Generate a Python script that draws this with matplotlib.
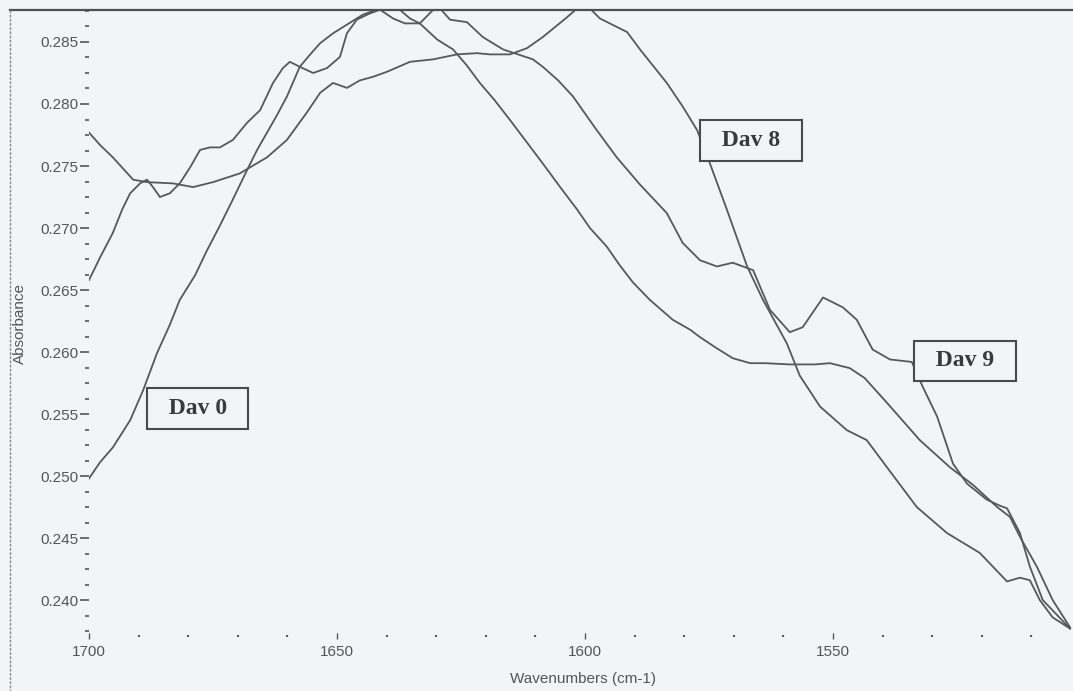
import matplotlib
matplotlib.use('Agg')
import matplotlib.pyplot as plt
from matplotlib.lines import Line2D
from matplotlib.ticker import MultipleLocator, FormatStrFormatter

# spettri FTIR (regione ammide I / II), assorbanza per i tre campioni
wn_dav0 = [1700, 1697.8, 1695.2, 1691.7, 1689.1, 1686.3, 1683.7, 1681.7, 1678.6, 1676.2,
           1673.6, 1671.0, 1668.1, 1666.1, 1664.1, 1662.1, 1660.1, 1657.5, 1655.4, 1653.4,
           1650.8, 1648.8, 1644.8, 1641.3, 1637.9, 1635.3, 1633.3, 1629.8, 1626.6, 1623.8,
           1621.2, 1618.2, 1615.1, 1611.7, 1608.5, 1605.0, 1601.6, 1599.0, 1595.6, 1593.0,
           1590.3, 1586.9, 1582.3, 1578.8, 1576.8, 1573.8, 1570.2, 1566.7, 1563.7, 1558.7,
           1553.6, 1550.6, 1546.6, 1543.6, 1539.1, 1532.5, 1526.4, 1521.8, 1516.9, 1514.3,
           1512.3, 1508.9, 1505.7, 1502.2]
abs_dav0 = [0.2498, 0.2511, 0.2523, 0.2545, 0.2569, 0.2599, 0.2622, 0.2642, 0.2662, 0.2682,
            0.2702, 0.2723, 0.2747, 0.2763, 0.2777, 0.2791, 0.2806, 0.2830, 0.2840, 0.2849,
            0.2857, 0.2862, 0.2872, 0.2877, 0.2878, 0.2869, 0.2865, 0.2852, 0.2844, 0.2831,
            0.2817, 0.2803, 0.2787, 0.2769, 0.2752, 0.2733, 0.2715, 0.2700, 0.2685, 0.2670,
            0.2656, 0.2642, 0.2626, 0.2618, 0.2612, 0.2604, 0.2595, 0.2591, 0.2591, 0.2590,
            0.2590, 0.2591, 0.2587, 0.2579, 0.2559, 0.2529, 0.2507, 0.2493, 0.2475, 0.2467,
            0.2451, 0.2427, 0.2400, 0.2378]

wn_dav8 = [1700, 1697.8, 1695.2, 1691.1, 1688.3, 1683.1, 1679.0, 1675.0, 1669.6, 1664.1,
           1660.1, 1656.1, 1653.4, 1650.8, 1648.0, 1645.4, 1642.7, 1639.9, 1635.3, 1630.6,
           1625.8, 1621.8, 1619.2, 1615.1, 1611.7, 1608.5, 1603.6, 1601.6, 1599.0, 1597.0,
           1591.5, 1588.9, 1583.5, 1580.3, 1577.4, 1574.8, 1571.4, 1567.3, 1564.1, 1559.3,
           1556.7, 1552.6, 1547.2, 1543.2, 1539.1, 1533.1, 1527.0, 1520.4, 1514.9, 1512.3,
           1510.3, 1508.3, 1505.7, 1502.2]
abs_dav8 = [0.2777, 0.2767, 0.2757, 0.2739, 0.2737, 0.2736, 0.2733, 0.2737, 0.2744, 0.2757,
            0.2771, 0.2793, 0.2809, 0.2817, 0.2813, 0.2819, 0.2822, 0.2826, 0.2834, 0.2836,
            0.2840, 0.2841, 0.2840, 0.2840, 0.2845, 0.2854, 0.2870, 0.2877, 0.2877, 0.2869,
            0.2858, 0.2844, 0.2817, 0.2798, 0.2779, 0.2752, 0.2715, 0.2669, 0.2642, 0.2607,
            0.2581, 0.2556, 0.2537, 0.2529, 0.2507, 0.2475, 0.2454, 0.2438, 0.2415, 0.2418,
            0.2416, 0.2400, 0.2386, 0.2377]

wn_dav9 = [1700, 1697.8, 1695.2, 1693.3, 1691.7, 1689.7, 1688.3, 1687.1, 1685.7, 1683.7,
           1681.7, 1679.6, 1677.6, 1675.6, 1673.6, 1671.0, 1668.1, 1665.5, 1662.9, 1660.9,
           1659.5, 1657.5, 1654.8, 1652.0, 1649.4, 1648.0, 1646.0, 1643.4, 1641.3, 1638.7,
           1636.3, 1633.3, 1630.6, 1629.2, 1627.2, 1623.8, 1620.6, 1616.5, 1610.5, 1608.5,
           1605.4, 1602.4, 1598.0, 1593.6, 1588.9, 1583.5, 1580.3, 1576.8, 1573.4, 1570.2,
           1566.1, 1562.7, 1558.7, 1556.1, 1552.0, 1548.0, 1545.2, 1542.0, 1538.5, 1534.1,
           1531.9, 1529.0, 1525.8, 1523.0, 1519.0, 1516.3, 1514.9, 1512.3, 1510.3, 1507.7,
           1502.2]
abs_dav9 = [0.2658, 0.2676, 0.2696, 0.2715, 0.2728, 0.2736, 0.2739, 0.2733, 0.2725, 0.2728,
            0.2736, 0.2749, 0.2763, 0.2765, 0.2765, 0.2771, 0.2785, 0.2795, 0.2817, 0.2829,
            0.2834, 0.2830, 0.2825, 0.2829, 0.2838, 0.2857, 0.2868, 0.2873, 0.2876, 0.2869,
            0.2865, 0.2865, 0.2876, 0.2877, 0.2868, 0.2866, 0.2854, 0.2844, 0.2836, 0.2830,
            0.2819, 0.2806, 0.2781, 0.2757, 0.2735, 0.2712, 0.2688, 0.2674, 0.2669, 0.2672,
            0.2666, 0.2634, 0.2616, 0.2620, 0.2644, 0.2636, 0.2626, 0.2602, 0.2594, 0.2592,
            0.2572, 0.2548, 0.2510, 0.2494, 0.2481, 0.2476, 0.2474, 0.2454, 0.2427, 0.2400,
            0.2377]

# etichette dei campioni: testo e posizione (numero d'onda, assorbanza)
etichette = ['Dav 0', 'Dav 8', 'Dav 9']
pos_etichette = [(1678.1, 0.25545), (1566.5, 0.27706), (1523.4, 0.25928)]

sfondo = '#f3f4f6'
grigio = '#555555'

fig = plt.figure(figsize=(10.73, 6.91), dpi=100, facecolor=sfondo)
ax = fig.add_axes([89 / 1073, 55 / 691, 984 / 1073, 626 / 691])
ax.set_facecolor('none')

for wn, ab in [(wn_dav0, abs_dav0), (wn_dav8, abs_dav8), (wn_dav9, abs_dav9)]:
    ax.plot(wn, ab, color='#585858', linewidth=1.3, zorder=2)

ax.set_xlim(1700, 1501.6)
ax.set_ylim(0.2371, 0.28758)

for s in ax.spines.values():
    s.set_visible(False)

ax.xaxis.set_major_locator(MultipleLocator(50))
ax.xaxis.set_minor_locator(MultipleLocator(10))
ax.yaxis.set_major_locator(MultipleLocator(0.005))
ax.yaxis.set_minor_locator(MultipleLocator(0.00125))
ax.yaxis.set_major_formatter(FormatStrFormatter('%.3f'))

ax.tick_params(axis='y', which='major', direction='out', length=6.5, width=1.2,
               color=grigio, labelcolor=grigio, labelsize=11, pad=1)
ax.tick_params(axis='y', which='minor', direction='out', length=3, width=1.2, color=grigio)
ax.tick_params(axis='x', which='major', direction='inout', length=4.5, width=1.0,
               color=grigio, labelcolor=grigio, labelsize=11, pad=4)
ax.tick_params(axis='x', which='minor', direction='inout', length=2, width=1.5, color=grigio)
for lab in ax.get_xticklabels() + ax.get_yticklabels():
    lab.set_family('Liberation Sans')

fig.text(583 / 1073, 1 - 679 / 691, 'Wavenumbers (cm-1)', ha='center', va='center',
         fontsize=11, color=grigio, family='Liberation Sans')
fig.text(20 / 1073, 1 - 323 / 691, 'Absorbance', ha='center', va='center', rotation=90,
         fontsize=11, color=grigio, family='Liberation Sans')

for testo, (x, y) in zip(etichette, pos_etichette):
    ax.text(x, y, '  ' + testo + '  ', ha='center', va='center', fontsize=17,
            fontweight='bold', family='Liberation Serif', color='#3a3a3a', zorder=5,
            bbox=dict(boxstyle='square,pad=0.42', facecolor=sfondo,
                      edgecolor='#4a4a4a', linewidth=1.5))

# cornice della finestra dello strumento
fig.add_artist(Line2D([10 / 1073, 1], [1 - 10 / 691, 1 - 10 / 691],
                      transform=fig.transFigure, color='#505050', linewidth=1.6))
fig.add_artist(Line2D([10 / 1073, 10 / 1073], [1 - 10 / 691, 0],
                      transform=fig.transFigure, color='#8a8a8a', linewidth=1.0,
                      linestyle=(0, (2, 1))))

plt.savefig('out.png', dpi=100, facecolor=sfondo)
